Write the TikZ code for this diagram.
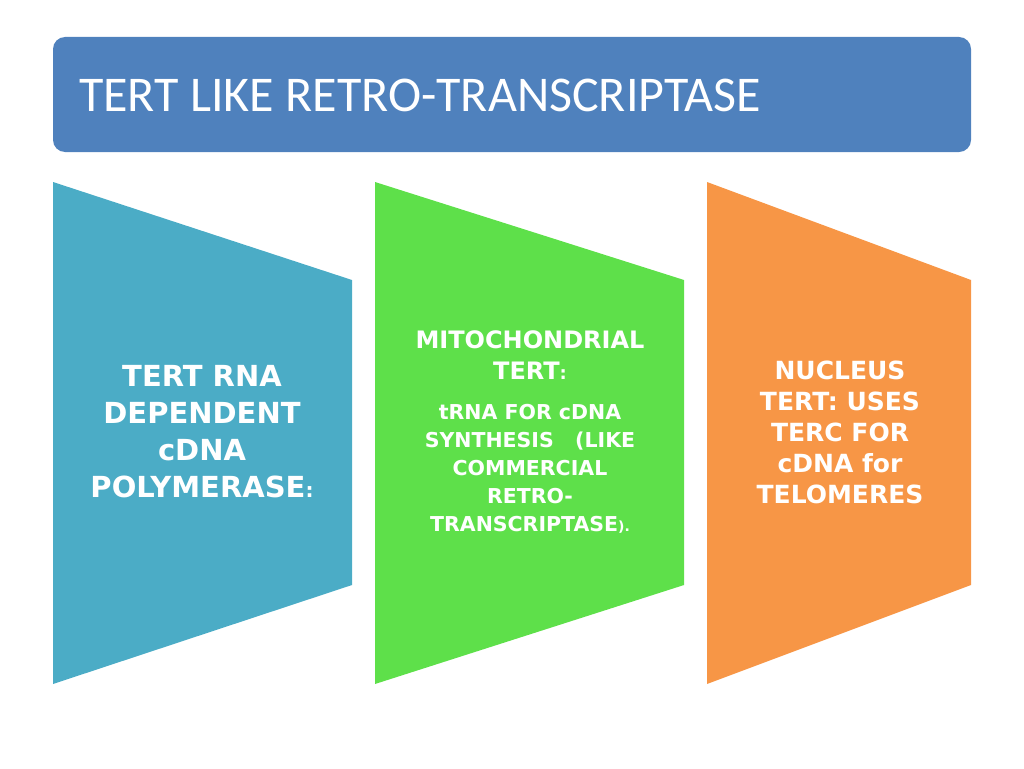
\documentclass[tikz,border=0pt]{standalone}
\usepackage{fontspec}
\setmainfont{DejaVu Sans}
\newfontfamily\titlefont{Carlito}
\definecolor{tblue}{HTML}{4F81BD}
\definecolor{pblue}{HTML}{4BACC6}
\definecolor{pgreen}{HTML}{5EE04A}
\definecolor{porange}{HTML}{F79646}
\tikzset{lbl/.style={text=white,font=\bfseries,align=center,inner sep=0pt}}
\begin{document}
\begin{tikzpicture}[x=1pt,y=-1pt]
\useasboundingbox (0,0) rectangle (1024,768);
\fill[tblue,rounded corners=12pt] (53,37) rectangle (971,152);
\node[anchor=west,text=white,font=\titlefont\fontsize{50}{60}\selectfont,inner sep=0pt] (title) at (79,95) {TERT LIKE RETRO-TRANSCRIPTASE};
\fill[pblue] (53,182) -- (352,280) -- (352,585) -- (53,684) -- cycle;
\fill[pgreen] (375,182) -- (684,280) -- (684,585) -- (375,684) -- cycle;
\fill[porange] (707,182) -- (971,280) -- (971,585) -- (707,684) -- cycle;
\node[lbl,font=\bfseries\fontsize{29}{37}\selectfont] (p1) at (202,432) {TERT RNA\\DEPENDENT\\cDNA\\POLYMERASE{\fontsize{20}{37}\selectfont:}};
\node[lbl,font=\bfseries\fontsize{24}{31}\selectfont] (p2a) at (530,355) {MITOCHONDRIAL\\TERT{\fontsize{18}{31}\selectfont:}};
\node[lbl,font=\bfseries\fontsize{20.5}{28}\selectfont] (p2b) at (530,469) {tRNA FOR cDNA\\SYNTHESIS\ \ \ (LIKE\\COMMERCIAL\\RETRO-\\TRANSCRIPTASE{\fontsize{14}{28}\selectfont).}};
\node[lbl,font=\bfseries\fontsize{25}{31}\selectfont] (p3) at (840,432) {NUCLEUS\\TERT: USES\\TERC FOR\\cDNA for\\TELOMERES};
\end{tikzpicture}
\end{document}
